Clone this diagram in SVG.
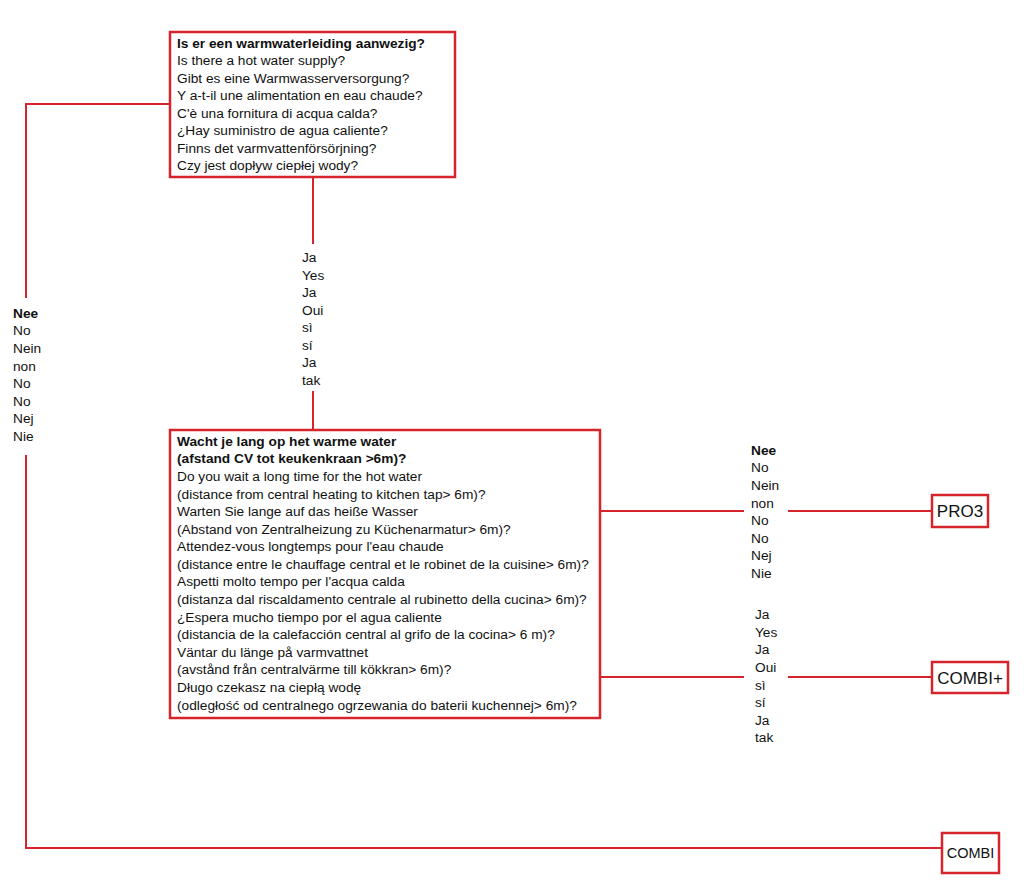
<svg xmlns="http://www.w3.org/2000/svg" width="1024" height="896" viewBox="0 0 1024 896">
<style>
.box{fill:#fff;stroke:#d5242c;stroke-width:2.5}
.ln{fill:none;stroke:#d5242c;stroke-width:2}
text{font-family:"Liberation Sans",Arial,sans-serif;font-size:13.7px;fill:#111}
.b{font-weight:bold}
.big{font-size:17px}
</style>
<rect width="1024" height="896" fill="#fff"/>
<g id="connectors">
<path class="ln" d="M170 104 H26 V298"/>
<path class="ln" d="M26 455 V848 H942"/>
<path class="ln" d="M313 177 V244"/>
<path class="ln" d="M313 391 V430"/>
<path class="ln" d="M600 511 H744"/>
<path class="ln" d="M788 511 H932"/>
<path class="ln" d="M600 677 H744"/>
<path class="ln" d="M788 677 H932"/>
</g>
<g id="q1">
<rect class="box" x="170" y="32" width="285" height="145"/>
<text x="177" y="48" class="b">Is er een warmwaterleiding aanwezig?</text>
<text x="177" y="65">Is there a hot water supply?</text>
<text x="177" y="83">Gibt es eine Warmwasserversorgung?</text>
<text x="177" y="100">Y a-t-il une alimentation en eau chaude?</text>
<text x="177" y="118">C'è una fornitura di acqua calda?</text>
<text x="177" y="135">¿Hay suministro de agua caliente?</text>
<text x="177" y="153">Finns det varmvattenförsörjning?</text>
<text x="177" y="170">Czy jest dopływ ciepłej wody?</text>
</g>
<g id="q2">
<rect class="box" x="170" y="430" width="430" height="288"/>
<text x="177" y="446" class="b">Wacht je lang op het warme water</text>
<text x="177" y="463" class="b">(afstand CV tot keukenkraan &gt;6m)?</text>
<text x="177" y="481">Do you wait a long time for the hot water</text>
<text x="177" y="499">(distance from central heating to kitchen tap&gt; 6m)?</text>
<text x="177" y="516">Warten Sie lange auf das heiße Wasser</text>
<text x="177" y="534">(Abstand von Zentralheizung zu Küchenarmatur&gt; 6m)?</text>
<text x="177" y="551">Attendez-vous longtemps pour l'eau chaude</text>
<text x="177" y="569">(distance entre le chauffage central et le robinet de la cuisine&gt; 6m)?</text>
<text x="177" y="586">Aspetti molto tempo per l'acqua calda</text>
<text x="177" y="604">(distanza dal riscaldamento centrale al rubinetto della cucina&gt; 6m)?</text>
<text x="177" y="622">¿Espera mucho tiempo por el agua caliente</text>
<text x="177" y="639">(distancia de la calefacción central al grifo de la cocina&gt; 6 m)?</text>
<text x="177" y="657">Väntar du länge på varmvattnet</text>
<text x="177" y="674">(avstånd från centralvärme till kökkran&gt; 6m)?</text>
<text x="177" y="692">Długo czekasz na ciepłą wodę</text>
<text x="177" y="710">(odległość od centralnego ogrzewania do baterii kuchennej&gt; 6m)?</text>
</g>
<g id="pro3">
<rect class="box" x="932" y="495" width="56" height="32"/>
<text x="960" y="517" class="big" text-anchor="middle">PRO3</text>
</g>
<g id="combiplus">
<rect class="box" x="932" y="662" width="76" height="31"/>
<text x="970" y="684" class="big" text-anchor="middle">COMBI+</text>
</g>
<g id="combi">
<rect class="box" x="942" y="833" width="57" height="40"/>
<text x="970.5" y="858" style="font-size:14.5px" text-anchor="middle">COMBI</text>
</g>
<g id="labels">
<text x="13" y="318" class="b">Nee</text>
<text x="13" y="335">No</text>
<text x="13" y="353">Nein</text>
<text x="13" y="371">non</text>
<text x="13" y="388">No</text>
<text x="13" y="406">No</text>
<text x="13" y="423">Nej</text>
<text x="13" y="441">Nie</text>
<text x="302" y="262">Ja</text>
<text x="302" y="280">Yes</text>
<text x="302" y="297">Ja</text>
<text x="302" y="315">Oui</text>
<text x="302" y="332">sì</text>
<text x="302" y="350">sí</text>
<text x="302" y="367">Ja</text>
<text x="302" y="385">tak</text>
<text x="751" y="455" class="b">Nee</text>
<text x="751" y="472">No</text>
<text x="751" y="490">Nein</text>
<text x="751" y="508">non</text>
<text x="751" y="525">No</text>
<text x="751" y="543">No</text>
<text x="751" y="560">Nej</text>
<text x="751" y="578">Nie</text>
<text x="755" y="619">Ja</text>
<text x="755" y="637">Yes</text>
<text x="755" y="654">Ja</text>
<text x="755" y="672">Oui</text>
<text x="755" y="690">sì</text>
<text x="755" y="707">sí</text>
<text x="755" y="725">Ja</text>
<text x="755" y="742">tak</text>
</g>
</svg>
